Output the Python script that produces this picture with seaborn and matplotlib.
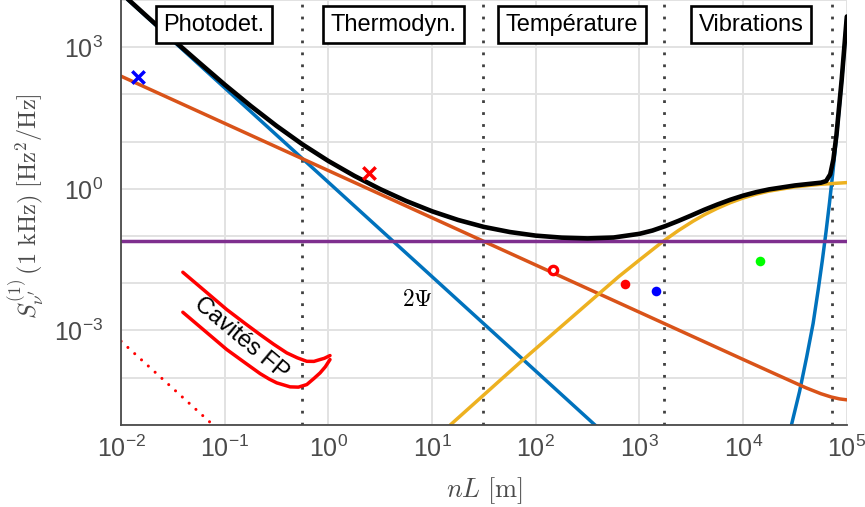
import numpy as np
import pandas as pd
import matplotlib
matplotlib.use("Agg")
import matplotlib.pyplot as plt
import matplotlib.ticker as mticker
import seaborn as sns

# ---------------- data ----------------
photodet_x = [0.01, 400]
photodet_y = [1.37e4, 8.6e-6]

vib_x = [29300, 35000, 41000, 47300, 53000, 58000, 63000, 68000, 73000, 79000, 85000, 91800, 100000]
vib_y = [1.02e-5, 5.1e-5, 2.75e-4, 1.41e-3, 7.4e-3, 0.0302, 0.123, 0.501, 2.04, 11.2, 60.3, 407, 4470]

thermo_x = [0.01, 1e4, 2e4, 3.98e4, 5.62e4, 7.08e4, 8.5e4, 1e5]
thermo_y = [243, 2.43e-4, 1.22e-4, 6.17e-5, 4.57e-5, 3.89e-5, 3.55e-5, 3.39e-5]

temp_x = [15, 75.7, 416, 631, 1012, 1694, 2371, 3296, 4217, 5623, 7499, 1e4, 13335,
          17783, 31623, 56234, 1e5]
temp_y = [1e-5, 2.42e-4, 6.27e-3, 0.01384, 0.0318, 0.0776, 0.1306, 0.207, 0.282, 0.386,
          0.508, 0.64, 0.771, 0.895, 1.102, 1.25, 1.355]

floor_x = [0.01, 1e5]
floor_y = [0.0776, 0.0776]

total_x = [0.01, 0.0178, 0.0316, 0.0562, 0.1, 0.178, 0.316, 0.562, 1, 1.78, 3.16, 5.62,
           10, 17.8, 31.6, 56.2, 100, 178, 316, 562, 1000, 1334, 1778, 2371, 3162, 4217,
           5623, 7499, 1e4, 13335, 17783, 31623, 56234, 63096, 69183, 74131, 79433, 89125, 1e5]
total_y = [14100, 4470, 1445, 479, 161, 57.0, 21.5, 8.73, 3.88, 1.88, 0.984, 0.553,
           0.334, 0.219, 0.156, 0.1216, 0.102, 0.0925, 0.0891, 0.093, 0.1115, 0.1307,
           0.1626, 0.209, 0.273, 0.36, 0.464, 0.586, 0.718, 0.849, 0.973, 1.18, 1.35,
           1.46, 2.03, 4.15, 13.9, 201, 4470]

fp_upper_x = [0.0394, 0.0631, 0.1045, 0.158, 0.219, 0.295, 0.396, 0.501, 0.618, 0.724,
              0.83, 0.912, 1.035]
fp_upper_y = [0.0171, 7.11e-3, 2.77e-3, 1.39e-3, 8.18e-4, 5.13e-4, 3.35e-4, 2.63e-4,
              2.22e-4, 2.21e-4, 2.42e-4, 2.57e-4, 2.94e-4]
fp_lower_x = [0.0394, 0.0631, 0.1045, 0.158, 0.219, 0.269, 0.317, 0.427, 0.513, 0.618,
              0.724, 0.83, 0.933, 1.035]
fp_lower_y = [2.43e-3, 1.01e-3, 3.94e-4, 2.04e-4, 1.22e-4, 9.3e-5, 7.76e-5, 6.38e-5,
              6.3e-5, 7.14e-5, 9.6e-5, 1.26e-4, 1.7e-4, 2.42e-4]

red_dotted_x = [0.01, 0.075]
red_dotted_y = [5.9e-4, 1.05e-5]

boundaries = [0.553, 30.8, 1722, 72300]
region_labels = ["Photodet.", "Thermodyn.", "Température", "Vibrations"]
region_label_x = [0.0789, 4.27, 223, 11900]
region_label_y = 3000

cross_x = [0.01445, 2.48]
cross_y = [229, 2.19]
cross_colors = ["#0000FF", "#FF0000"]

dot_x = [724, 1442, 14520]
dot_y = [9.86e-3, 7.0e-3, 0.0302]
dot_colors = ["#FF0000", "#0000FF", "#00FF00"]

ring_x = [147]
ring_y = [0.0195]

x_decades = [-2, -1, 0, 1, 2, 3, 4, 5]
y_decades = [-5, -4, -3, -2, -1, 0, 1, 2, 3, 4]
y_labelled = [-3, 0, 3]

# ---------------- style ----------------
sns.set_style("white")
plt.rcParams["font.family"] = ["Liberation Sans", "DejaVu Sans"]
plt.rcParams["mathtext.fontset"] = "custom"
plt.rcParams["mathtext.rm"] = "Liberation Sans"
plt.rcParams["mathtext.it"] = "Liberation Sans:italic"
plt.rcParams["mathtext.bf"] = "Liberation Sans:bold"
plt.rcParams["mathtext.sf"] = "Liberation Sans"

BLUE = "#0072BD"
ORANGE = "#D95319"
YELLOW = "#EDB120"
PURPLE = "#7E2F8E"
AXC = "#4a4a4a"

fig = plt.figure(figsize=(8.65, 5.07), dpi=100)
ax = fig.add_axes([0.140, 0.162, 0.839, 0.838])
ax.set_xscale("log")
ax.set_yscale("log")

def line(x, y, **kw):
    sns.lineplot(x=x, y=y, ax=ax, estimator=None, sort=False, legend=False, **kw)

CW = 2.5
line(photodet_x, photodet_y, color=BLUE, linewidth=CW, zorder=3)
line(vib_x, vib_y, color=BLUE, linewidth=CW, zorder=3)
line(thermo_x, thermo_y, color=ORANGE, linewidth=CW, zorder=3)
line(temp_x, temp_y, color=YELLOW, linewidth=CW, zorder=3)
line(floor_x, floor_y, color=PURPLE, linewidth=CW, zorder=3.5)
line(total_x, total_y, color="black", linewidth=3.3, zorder=4)
line(fp_upper_x, fp_upper_y, color="#FF0000", linewidth=2.5, zorder=4)
line(fp_lower_x, fp_lower_y, color="#FF0000", linewidth=2.5, zorder=4)
line(red_dotted_x, red_dotted_y, color="#FF0000", linewidth=2.2,
     linestyle=(0, (0.01, 3.0)), dash_capstyle="round", zorder=4)

ax.vlines(boundaries, 1e-5, 1e4, colors="#404040", lw=2.0, linestyles=[(0, (1, 3.3))], zorder=2.5)

for xx, yy, cc in zip(cross_x, cross_y, cross_colors):
    sns.scatterplot(x=[xx], y=[yy], ax=ax, marker="x", color=cc, s=80, linewidth=2.5,
                    zorder=5, legend=False)
for xx, yy, cc in zip(dot_x, dot_y, dot_colors):
    sns.scatterplot(x=[xx], y=[yy], ax=ax, marker="o", color=cc, s=48, linewidth=0,
                    zorder=5, legend=False)
sns.scatterplot(x=ring_x, y=ring_y, ax=ax, marker="o", facecolor="white", edgecolor="#FF0000",
                s=36, linewidth=2.4, zorder=5, legend=False)

for lab, xx in zip(region_labels, region_label_x):
    ax.text(xx, region_label_y, lab, ha="center", va="center", fontsize=17, color="black",
            zorder=10,
            bbox=dict(boxstyle="square,pad=0.32", fc="white", ec="black", lw=1.9))

ax.text(0.1426, 6.76e-4, "Cavités FP", rotation=-40, ha="center", va="center",
        fontsize=17, color="black", zorder=6, rotation_mode="anchor")
ax.text(7.14, 4.5e-3, r"$2\Psi$", ha="center", va="center", fontsize=17, color="black",
        math_fontfamily="cm", zorder=6)

ax.set_xlim(0.01, 1e5)
ax.set_ylim(1e-5, 1e4)

ax.xaxis.set_major_locator(mticker.FixedLocator([10.0 ** e for e in x_decades]))
ax.yaxis.set_major_locator(mticker.FixedLocator([10.0 ** e for e in y_decades]))
ax.xaxis.set_minor_locator(mticker.FixedLocator(
    [m * 10.0 ** e for e in x_decades[:-1] for m in range(2, 10)]))
ax.yaxis.set_minor_locator(mticker.FixedLocator(
    [m * 10.0 ** e for e in y_decades[:-1] for m in range(2, 10)]))
ax.xaxis.set_minor_formatter(mticker.NullFormatter())
ax.yaxis.set_minor_formatter(mticker.NullFormatter())

def xfmt(v, pos):
    e = int(round(np.log10(v)))
    return r"$10^{%d}$" % e

def yfmt(v, pos):
    e = int(round(np.log10(v)))
    return r"$10^{%d}$" % e if e in y_labelled else ""

ax.xaxis.set_major_formatter(mticker.FuncFormatter(xfmt))
ax.yaxis.set_major_formatter(mticker.FuncFormatter(yfmt))

ax.grid(True, which="major", color="#e2e2e2", lw=1.4)
ax.set_axisbelow(True)
for s in ["top", "right"]:
    ax.spines[s].set_visible(False)
for s in ["left", "bottom"]:
    ax.spines[s].set_color(AXC)
    ax.spines[s].set_linewidth(1.3)
    ax.spines[s].set_zorder(6)

ax.tick_params(axis="both", which="both", direction="in", colors=AXC, labelcolor=AXC)
ax.tick_params(axis="both", which="major", length=5, width=1.0, labelsize=18)
ax.tick_params(axis="both", which="minor", length=3, width=0.8)
ax.tick_params(axis="x", which="major", pad=8)
ax.tick_params(axis="y", which="major", pad=13)

ax.set_xlabel(r"$nL\ [\mathrm{m}]$", fontsize=19, color=AXC, math_fontfamily="cm")
ax.set_ylabel(r"$S_{\nu'}^{(1)}\,(1\ \mathrm{kHz})\ [\mathrm{Hz}^2/\mathrm{Hz}]$",
              fontsize=17.5, color=AXC, math_fontfamily="cm")
ax.xaxis.set_label_coords(0.5, -0.118)
ax.yaxis.set_label_coords(-0.103, 0.515)

fig.savefig("out.png", dpi=100)
